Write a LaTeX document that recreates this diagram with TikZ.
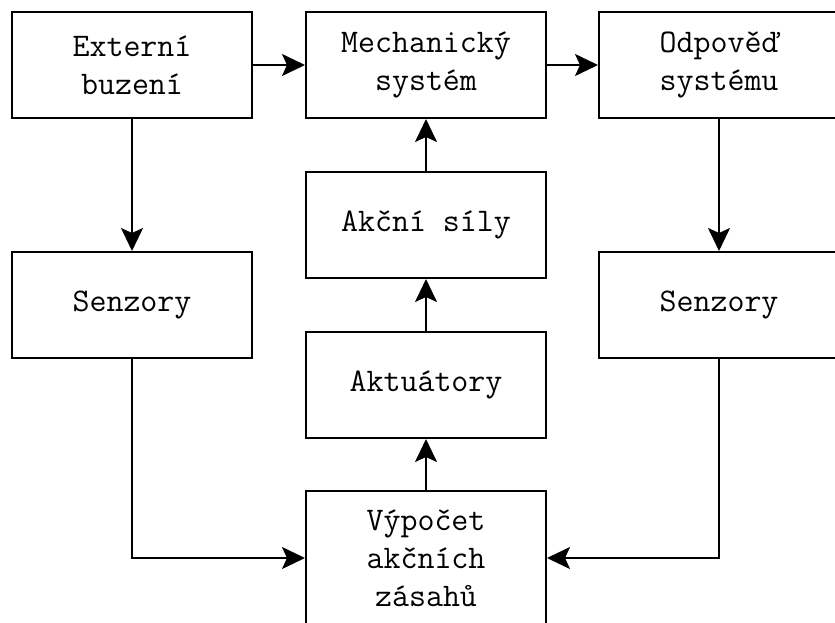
\documentclass[tikz,border=0pt]{standalone}
\usepackage{fontspec}
\usetikzlibrary{arrows.meta}
\begin{document}
\begin{tikzpicture}[x=1pt,y=-1pt,
  blk/.style={draw=black, line width=2pt, minimum width=240pt, minimum height=106pt, inner sep=0pt, align=center, font=\fontsize{33}{38}\selectfont\ttfamily},
  conn/.style={line width=2pt, -{Stealth[length=23pt,width=22pt,inset=5pt]}}]
\useasboundingbox (0,0) rectangle (835,623);
\node[blk] (ext) at (132,65) {Externí\\buzení};
\node[blk] (mech) at (426,65) {Mechanický\\systém};
\node[blk] (odp) at (719,65) {Odpověď\\systému};
\node[blk] (sily) at (426,225) {Akční síly};
\node[blk] (senL) at (132,305) {Senzory};
\node[blk] (senR) at (719,305) {Senzory};
\node[blk] (akt) at (426,385) {Aktuátory};
\node[blk, minimum height=134pt] (vyp) at (426,558) {Výpočet\\akčních\\zásahů};
\draw[conn] (ext) -- (mech);
\draw[conn] (mech) -- (odp);
\draw[conn] (ext) -- (senL);
\draw[conn] (odp) -- (senR);
\draw[conn] (vyp) -- (akt);
\draw[conn] (akt) -- (sily);
\draw[conn] (sily) -- (mech);
\draw[conn] (senL.south) |- (vyp.west);
\draw[conn] (senR.south) |- (vyp.east);
\end{tikzpicture}
\end{document}
